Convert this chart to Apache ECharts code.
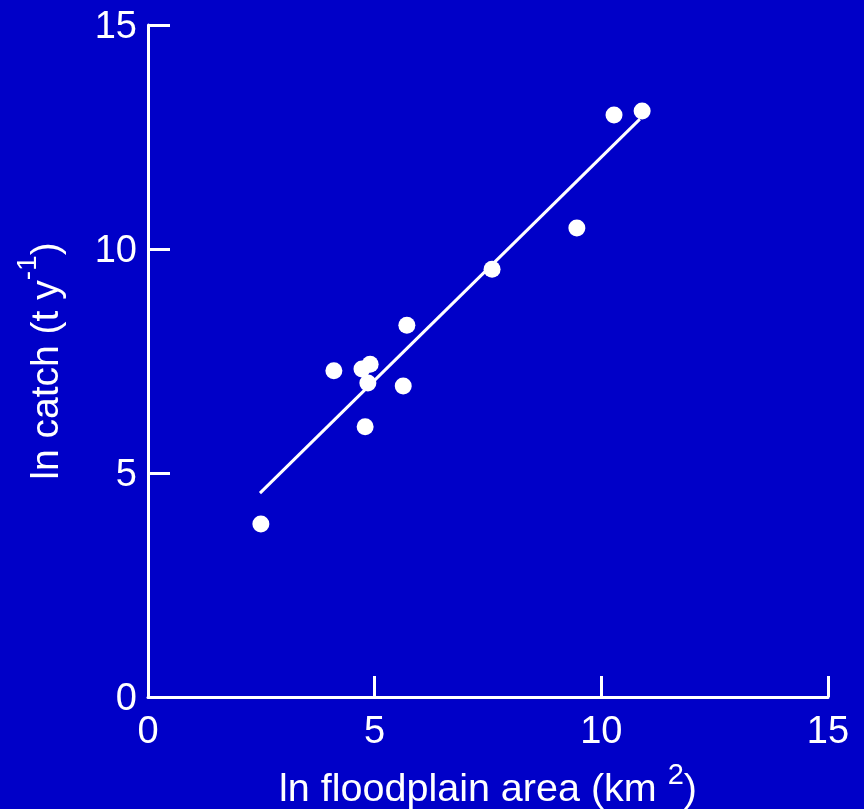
<!DOCTYPE html>
<html>
<head>
<meta charset="utf-8">
<script src="https://cdn.jsdelivr.net/npm/echarts@6/dist/echarts.min.js"></script>
<style>
html,body{margin:0;padding:0;background:#0000C8;}
#chart{width:864px;height:809px;}
</style>
</head>
<body>
<div id="chart"></div>
<script>
// Data
const floodplainArea = [2.49, 4.10, 4.72, 4.90, 4.85, 4.79, 5.63, 5.71, 7.59, 9.46, 10.28, 10.90];
const catchValues    = [3.86, 7.28, 7.32, 7.43, 7.01, 6.03, 6.94, 8.30, 9.55, 10.47, 12.99, 13.08];
const fitX = [2.47, 10.85];
const fitY = [4.55, 12.90];
const xTicks = [0, 5, 10, 15];
const yTicks = [0, 5, 10, 15];

const points = floodplainArea.map((x, i) => [x, catchValues[i]]);
const fitLine = fitX.map((x, i) => [x, fitY[i]]);

const white = '#ffffff';
const font = '"Liberation Sans", Arial, sans-serif';

const chart = echarts.init(document.getElementById('chart'));
chart.setOption({
  backgroundColor: '#0000C8',
  animation: false,
  grid: { left: 148, right: 36, top: 25, bottom: 112, containLabel: false, outerBoundsMode: 'none' },
  xAxis: {
    type: 'value', min: xTicks[0], max: xTicks[xTicks.length - 1], interval: 5,
    axisLine: { show: true, onZero: false, lineStyle: { color: white, width: 3 } },
    axisTick: { show: true, inside: true, length: 21, lineStyle: { color: white, width: 3 } },
    splitLine: { show: false },
    axisLabel: { color: white, fontSize: 38, fontFamily: font, margin: 17 },
    name: '{a|ln floodplain area (km }{s|2}{a|)}',
    nameLocation: 'middle',
    nameGap: 64,
    nameTextStyle: {
      rich: {
        a: { color: white, fontSize: 39.5, fontFamily: font },
        s: { color: white, fontSize: 29, fontFamily: font, verticalAlign: 'top', padding: [0, 0, 30, 0] }
      }
    }
  },
  yAxis: {
    type: 'value', min: yTicks[0], max: yTicks[yTicks.length - 1], interval: 5,
    axisLine: { show: true, onZero: false, lineStyle: { color: white, width: 3 } },
    axisTick: { show: true, inside: true, length: 22, lineStyle: { color: white, width: 3 } },
    splitLine: { show: false },
    axisLabel: {
      margin: 11,
      formatter: v => '{v|' + v + '}',
      rich: { v: { color: white, fontSize: 38, fontFamily: font, padding: [6, 0, 0, 0] } }
    },
    name: '{a|ln catch (t y}{s|-1}{a|)}',
    nameLocation: 'middle',
    nameRotate: 90,
    nameGap: 68,
    nameTextStyle: {
      rich: {
        a: { color: white, fontSize: 39, fontFamily: font },
        s: { color: white, fontSize: 28, fontFamily: font, verticalAlign: 'top', padding: [0, 0, 38, 0] }
      }
    }
  },
  series: [
    {
      type: 'line', data: fitLine, showSymbol: false, symbol: 'none',
      lineStyle: { color: white, width: 3 }, z: 2
    },
    {
      type: 'scatter', data: points, symbol: 'circle', symbolSize: 17,
      itemStyle: { color: white, opacity: 1 }, z: 3
    }
  ]
});
</script>
</body>
</html>
